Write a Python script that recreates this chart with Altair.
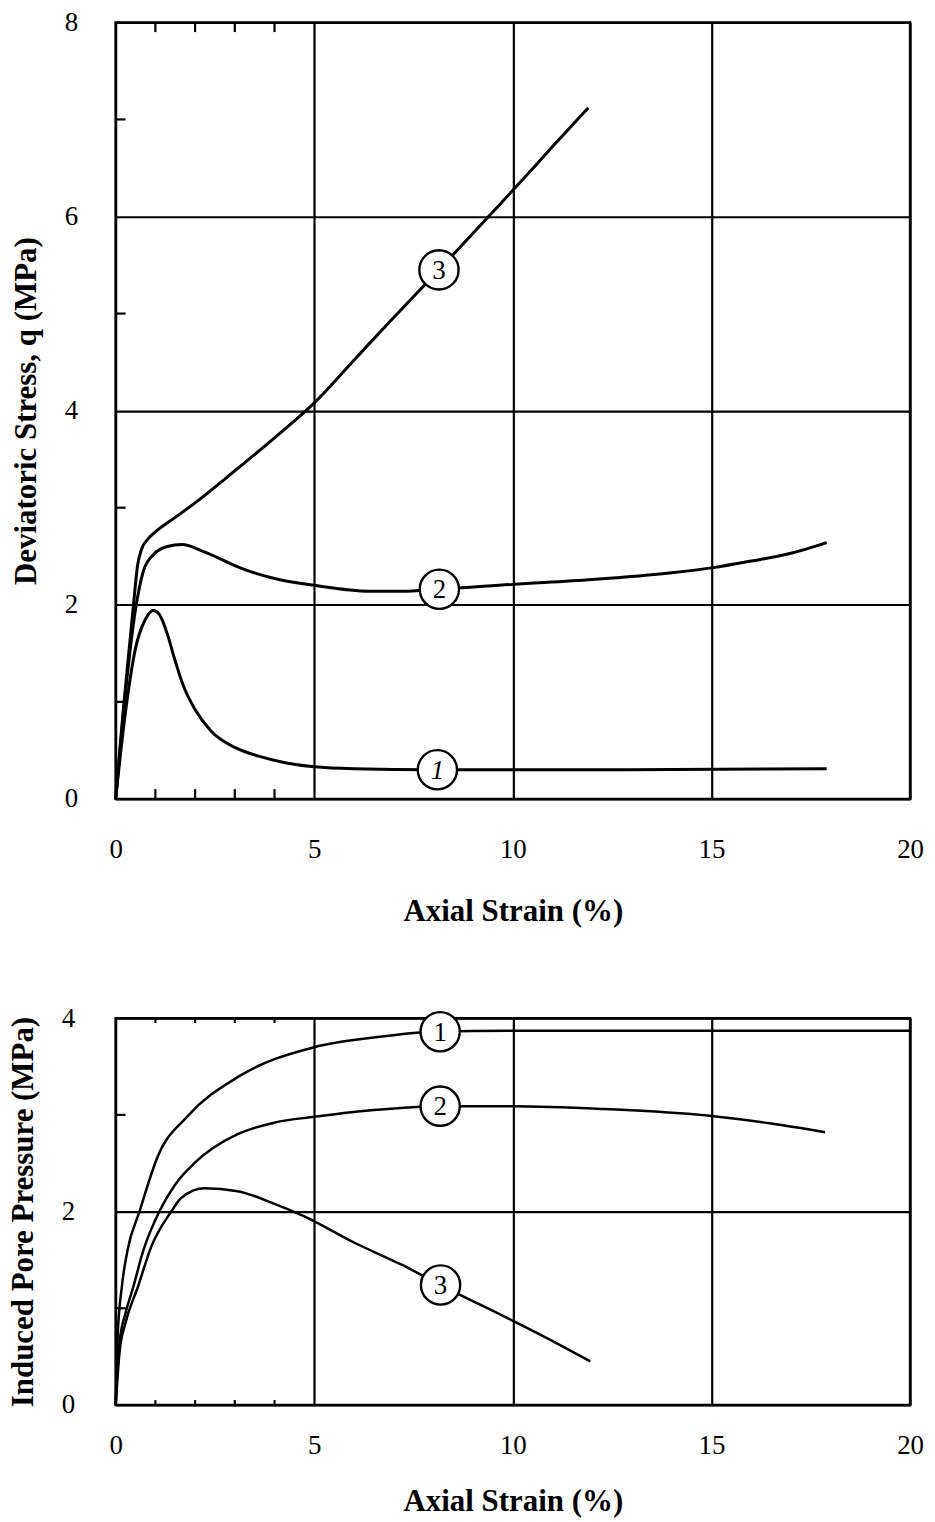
import altair as alt
import pandas as pd

FONT = "Liberation Serif"

# ---------------- Top panel: deviatoric stress q (MPa) vs axial strain (%) ----------------
q1_x = [0, 0.25, 0.5, 0.75, 0.95, 1.1, 1.3, 1.5, 1.7, 2.0, 2.4, 3.0, 3.6, 4.3, 5.0, 6.0, 8.0, 12.0, 17.9]
q1_y = [0, 0.9, 1.55, 1.85, 1.94, 1.9, 1.7, 1.42, 1.17, 0.92, 0.7, 0.53, 0.44, 0.37, 0.33, 0.31, 0.30, 0.30, 0.31]

q2_x = [0, 0.2, 0.5, 0.6, 0.71, 0.96, 1.3, 1.67, 2.2, 3.2, 4.0, 5.0, 6.4, 7.2, 8.15, 10.0, 12.0, 14.0, 15.0, 16.0, 17.0, 17.9]
q2_y = [0, 0.9, 1.95, 2.18, 2.36, 2.52, 2.6, 2.62, 2.55, 2.37, 2.27, 2.2, 2.14, 2.14, 2.16, 2.21, 2.26, 2.33, 2.38, 2.45, 2.53, 2.64]

q3_x = [0, 0.2, 0.45, 0.55, 0.65, 0.8, 1.0, 1.5, 2.0, 3.0, 4.0, 5.0, 6.0, 7.0, 8.14, 9.39, 10.0, 11.0, 11.9]
q3_y = [0, 0.95, 2.0, 2.4, 2.57, 2.67, 2.75, 2.9, 3.05, 3.38, 3.72, 4.08, 4.52, 4.96, 5.45, 6.0, 6.27, 6.72, 7.12]

top_label_text = ["1", "2", "3"]
top_label_x = [8.1, 8.15, 8.14]
top_label_y = [0.30, 2.16, 5.45]

top_x_values = [0, 5, 10, 15, 20]
top_y_values = [0, 2, 4, 6, 8]
top_x_minor = [1, 2, 3, 4]
top_y_minor = [1, 3, 5, 7]

# ---------------- Bottom panel: induced pore pressure (MPa) vs axial strain (%) ----------------
u1_x = [0, 0.05, 0.15, 0.3, 0.6, 1.06, 1.82, 3.07, 5.0, 6.5, 8.0, 10.0, 15.0, 20.0]
u1_y = [0, 0.7, 1.2, 1.6, 2.0, 2.57, 2.99, 3.39, 3.70, 3.80, 3.86, 3.87, 3.87, 3.87]

u2_x = [0, 0.1, 0.25, 0.43, 0.7, 1.1, 1.5, 1.98, 3.07, 4.0, 5.0, 6.5, 8.17, 10.0, 12.3, 14.95, 16.5, 17.86]
u2_y = [0, 0.65, 0.95, 1.2, 1.6, 2.0, 2.28, 2.5, 2.8, 2.92, 2.98, 3.05, 3.09, 3.09, 3.06, 2.99, 2.91, 2.82]

u3_x = [0, 0.1, 0.25, 0.56, 0.9, 1.4, 1.65, 2.24, 3.07, 4.0, 4.75, 6.0, 7.2, 8.18, 10.0, 11.0, 11.95]
u3_y = [0, 0.55, 0.85, 1.22, 1.64, 2.0, 2.14, 2.24, 2.21, 2.08, 1.95, 1.68, 1.45, 1.24, 0.87, 0.66, 0.45]

bot_label_text = ["1", "2", "3"]
bot_label_x = [8.17, 8.17, 8.18]
bot_label_y = [3.86, 3.09, 1.24]

bot_x_values = [0, 5, 10, 15, 20]
bot_y_values = [0, 2, 4]
bot_x_minor = [1, 2, 3, 4]
bot_y_minor = [1, 3]


def curves_df(series):
    rows = []
    for name, xs, ys in series:
        for i, (a, b) in enumerate(zip(xs, ys)):
            rows.append({"curve": name, "order": i, "x": a, "y": b})
    return pd.DataFrame(rows)


def ticks_df(x_minor, y_minor, xmax, ymax, tx, ty):
    rows = []
    for v in x_minor:
        rows.append({"x": v, "x2": v, "y": 0, "y2": ty})
        rows.append({"x": v, "x2": v, "y": ymax - ty, "y2": ymax})
    for v in y_minor:
        rows.append({"x": 0, "x2": tx, "y": v, "y2": v})
    return pd.DataFrame(rows)


def panel(series, lab_text, lab_x, lab_y, x_vals, y_vals, x_minor, y_minor,
          ymax, ytitle, w, h, lw, xlabpad, xtitlepad, ylabpad, ytitlepad, italic_one):
    xs = alt.Scale(domain=[0, 20], nice=False, zero=False)
    ys = alt.Scale(domain=[0, ymax], nice=False, zero=False)
    xax = alt.Axis(values=x_vals, grid=True, gridColor="black", gridOpacity=1, gridWidth=2.2,
                   ticks=False, domain=False, labelFont=FONT, labelFontSize=27, labelColor="black",
                   labelPadding=xlabpad, labelFlush=False, title="Axial Strain (%)",
                   titleFont=FONT, titleFontSize=31, titleFontWeight="bold", titleColor="black",
                   titlePadding=xtitlepad)
    yax = alt.Axis(values=y_vals, grid=True, gridColor="black", gridOpacity=1, gridWidth=2.2,
                   ticks=False, domain=False, labelFont=FONT, labelFontSize=27, labelColor="black",
                   labelPadding=ylabpad, labelFlush=False, title=ytitle,
                   titleFont=FONT, titleFontSize=31, titleFontWeight="bold", titleColor="black",
                   titlePadding=ytitlepad)
    X = alt.X("x:Q", scale=xs, axis=xax)
    Y = alt.Y("y:Q", scale=ys, axis=yax)

    cdf = curves_df(series)
    lines = alt.Chart(cdf).mark_line(color="black", strokeWidth=lw, interpolate="monotone").encode(
        x=X, y=Y, detail="curve:N", order="order:Q")

    tdf = ticks_df(x_minor, y_minor, 20, ymax, 0.25, ymax * 0.0125)
    ticks = alt.Chart(tdf).mark_rule(color="black", strokeWidth=2.2).encode(
        x=X, x2="x2:Q", y=Y, y2="y2:Q")

    ldf = pd.DataFrame({"t": lab_text, "x": lab_x, "y": lab_y})
    circ = alt.Chart(ldf).mark_point(shape="circle", size=1550, filled=True, fill="white",
                                     stroke="black", strokeWidth=2.4, opacity=1).encode(x=X, y=Y)
    if italic_one:
        ldf_n = ldf[ldf.t != "1"]
        ldf_i = ldf[ldf.t == "1"]
        txt = alt.Chart(ldf_n).mark_text(font=FONT, fontSize=27, color="black", baseline="middle",
                                         dy=1).encode(x=X, y=Y, text="t:N")
        txt_i = alt.Chart(ldf_i).mark_text(font=FONT, fontSize=27, fontStyle="italic", color="black",
                                           baseline="middle", dy=1).encode(x=X, y=Y, text="t:N")
        layers = [lines, ticks, circ, txt, txt_i]
    else:
        txt = alt.Chart(ldf).mark_text(font=FONT, fontSize=27, color="black", baseline="middle",
                                       dy=1).encode(x=X, y=Y, text="t:N")
        layers = [lines, ticks, circ, txt]
    return alt.layer(*layers).properties(width=w, height=h)


top = panel([("1", q1_x, q1_y), ("2", q2_x, q2_y), ("3", q3_x, q3_y)],
            top_label_text, top_label_x, top_label_y, top_x_values, top_y_values,
            top_x_minor, top_y_minor, 8, "Deviatoric Stress, q (MPa)",
            797, 779, 3.0, 38, 34, 38, 22, True)

bottom = panel([("1", u1_x, u1_y), ("2", u2_x, u2_y), ("3", u3_x, u3_y)],
               bot_label_text, bot_label_x, bot_label_y, bot_x_values, bot_y_values,
               bot_x_minor, bot_y_minor, 4, "Induced Pore Pressure (MPa)",
               797, 388, 2.5, 28, 28, 41, 22, False)

chart = alt.vconcat(top, bottom, spacing=74).properties(
    padding={"left": 6, "top": 4, "right": 10, "bottom": 5},
    background="white",
).configure_view(stroke="black", strokeWidth=2.5)

chart.save("out.html", embed_options={"renderer": "svg", "actions": False})
